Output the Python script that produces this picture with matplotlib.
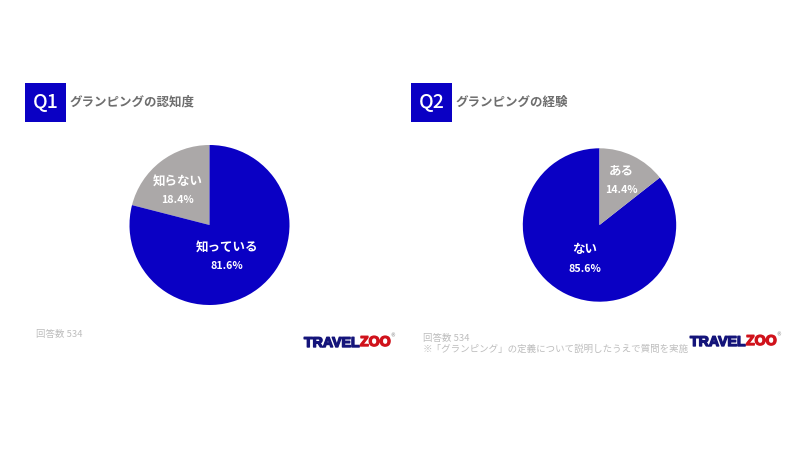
import matplotlib
matplotlib.use("Agg")
import matplotlib.patheffects as pe
import matplotlib.pyplot as plt
from matplotlib.patches import Rectangle

plt.rcParams["font.family"] = ["Noto Sans CJK JP", "DejaVu Sans"]

BLUE = "#0A00C4"
GREY = "#ABA8A8"
TITLE_GREY = "#6E6E6E"
NOTE_GREY = "#BDBDBD"
LOGO_BLUE = "#14147A"
LOGO_RED = "#D0121B"

# Q1: printed percentages, and the shares the slices are really drawn at
# (the original slide's grey slice is bigger than its 18.4% label)
q1_labels = ["知らない", "知っている"]
q1_values = [18.4, 81.6]
q1_drawn = [21.0, 79.0]

# Q2
q2_labels = ["ある", "ない"]
q2_values = [14.4, 85.6]

W, H = 800, 450

fig = plt.figure(figsize=(8, 4.5), dpi=100)

# pixel-coordinate overlay for all the text, sits above the pies
bg = fig.add_axes([0, 0, 1, 1], zorder=10)
bg.set_xlim(0, W)
bg.set_ylim(H, 0)
bg.axis("off")


def draw_header(x, y, tag, title):
    bg.add_patch(Rectangle((x, y), 41, 39, color=BLUE, lw=0))
    bg.text(x + 20.5, y + 19, tag, color="white", fontsize=14, fontweight="medium",
            ha="center", va="center")
    bg.text(x + 45, y + 19.5, title, color=TITLE_GREY, fontsize=9, fontweight="bold",
            ha="left", va="center")


def draw_pie(cx, cy, r, values, colors):
    ax = fig.add_axes([(cx - r) / W, 1 - (cy + r) / H, 2 * r / W, 2 * r / H], zorder=1)
    ax.pie(values, colors=colors, startangle=90, radius=1, wedgeprops={"linewidth": 0})
    ax.set_xlim(-1, 1)
    ax.set_ylim(-1, 1)


def draw_label(x, y, name, val):
    bg.text(x, y, name, color="white", fontsize=9, fontweight="bold", ha="center", va="center")
    bg.text(x, y + 19, f"{val}%", color="white", fontsize=7.7, fontweight="bold",
            ha="center", va="center")


def draw_logo(x, y):
    t = bg.text(x, y, "TRAVEL", color=LOGO_BLUE, fontsize=10.2, fontweight="bold",
                family="Liberation Sans", ha="left", va="baseline")
    t.set_path_effects([pe.withStroke(linewidth=1.0, foreground=LOGO_BLUE)])
    t = bg.text(x + 56, y - 1, "ZOO", color=LOGO_RED, fontsize=10.2, fontweight="bold",
                family="Liberation Sans", ha="left", va="baseline")
    t.set_path_effects([pe.withStroke(linewidth=1.0, foreground=LOGO_RED)])
    bg.text(x + 86.5, y - 11, "®", color="#777777", fontsize=3.5, family="DejaVu Sans",
            ha="left", va="center")


draw_header(25, 83, "Q1", "グランピングの認知度")
draw_header(411, 83, "Q2", "グランピングの経験")

# grey slice sits left of 12 o'clock on Q1, right of it on Q2
draw_pie(209.5, 225, 80, q1_drawn, [GREY, BLUE])
draw_pie(599.5, 225, 76.7, q2_values[::-1], [BLUE, GREY])

draw_label(178, 181, q1_labels[0], q1_values[0])
draw_label(227, 247, q1_labels[1], q1_values[1])
draw_label(621, 171, q2_labels[0], q2_values[0])
draw_label(585, 250, q2_labels[1], q2_values[1])

bg.text(36, 335, "回答数 534", color=NOTE_GREY, fontsize=6.8, ha="left", va="center")
bg.text(423, 338, "回答数 534", color=NOTE_GREY, fontsize=6.8, ha="left", va="center")
bg.text(423, 349, "※「グランピング」の定義について説明したうえで質問を実施",
        color=NOTE_GREY, fontsize=6.8, ha="left", va="center")

draw_logo(304, 347)
draw_logo(690, 346)

fig.savefig("out.png", dpi=100)
